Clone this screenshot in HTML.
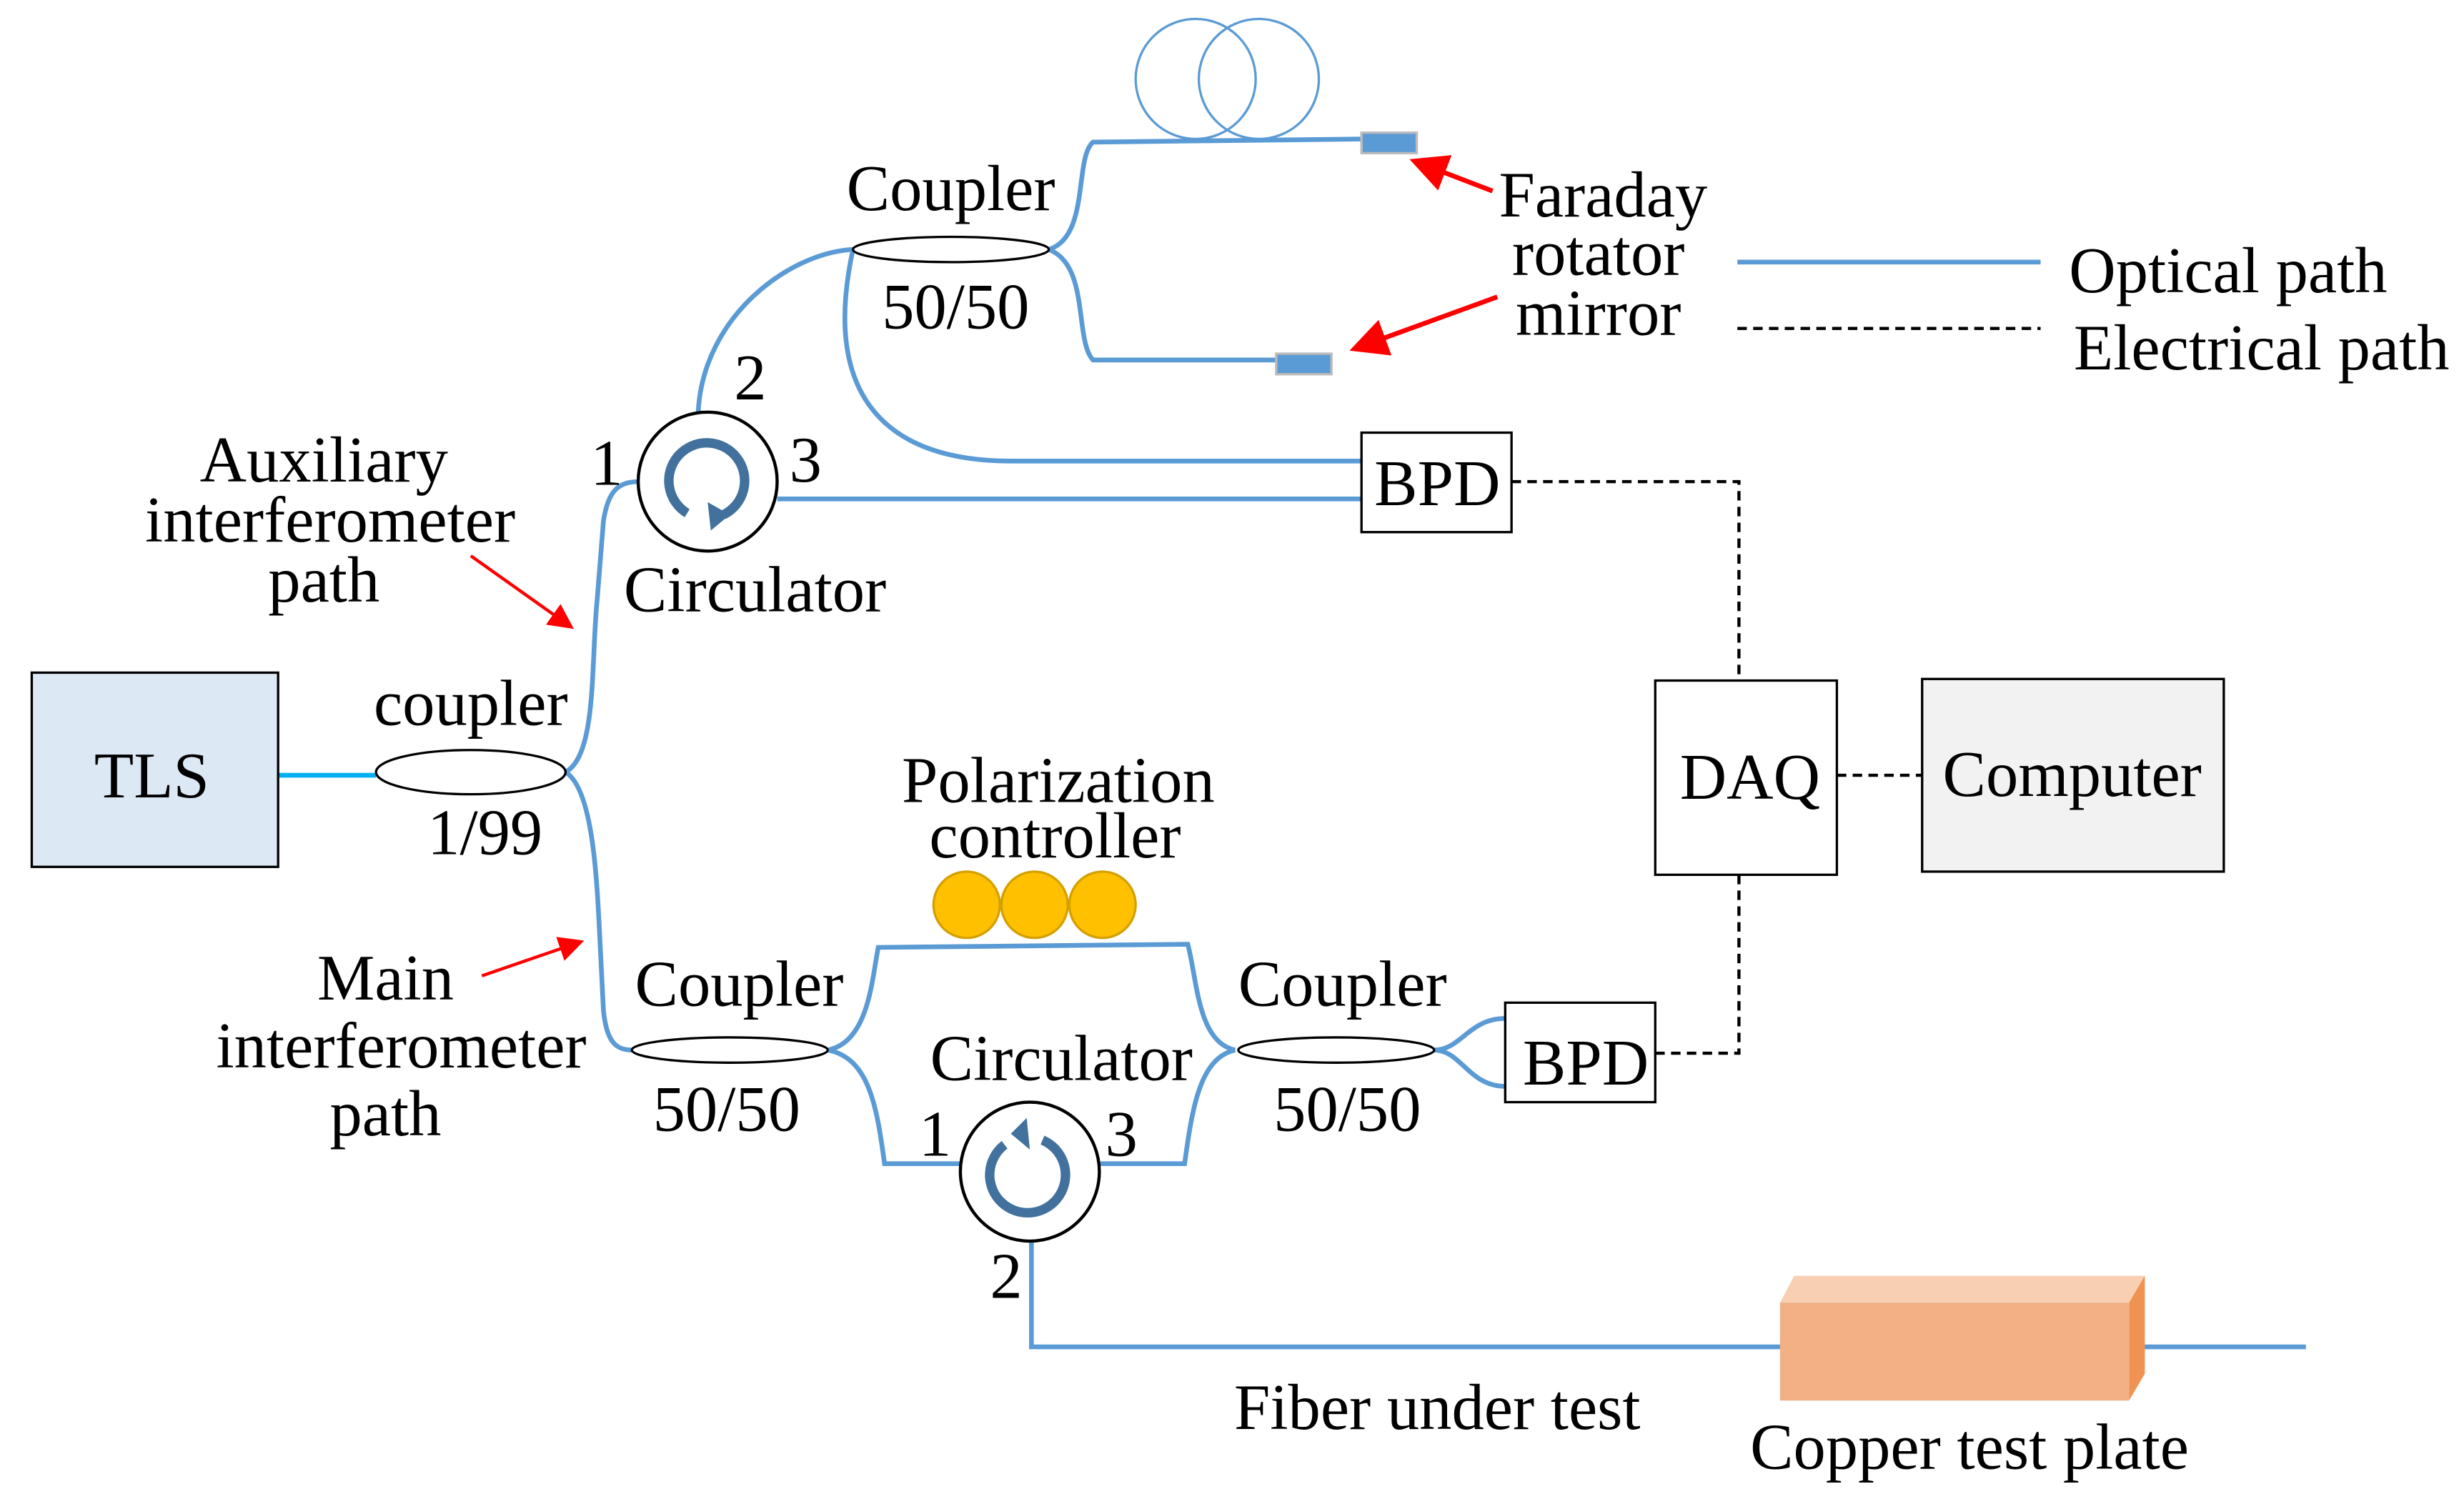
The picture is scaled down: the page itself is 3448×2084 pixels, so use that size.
<!DOCTYPE html>
<html><head><meta charset="utf-8"><style>
html,body{margin:0;padding:0;background:#fff;}
svg{display:block;}
text{font-family:"Liberation Serif",serif;font-size:41px;fill:#000;}
</style></head><body>
<svg width="3448" height="2084" viewBox="0 0 1560 943" xmlns="http://www.w3.org/2000/svg">
<defs>
<marker id="ar" markerWidth="8" markerHeight="8" refX="6" refY="4" orient="auto" markerUnits="strokeWidth">
<path d="M0,0 L8,4 L0,8 z" fill="#f00"/></marker>
</defs>
<g fill="none" stroke="#5b9bd5" stroke-width="3">
<circle cx="757" cy="50" r="38" stroke-width="1.5"/>
<circle cx="797" cy="50" r="38" stroke-width="1.5"/>
<path d="M358,489 C378,478 374,420 378,380 L382,330 C385,310 392,305 405,305"/>
<path d="M358,489 C376,500 378,560 380,600 L382,640 C384,660 390,665 400,665"/>
<path d="M442,261 C445,200 500,160 540,158"/>
<path d="M664,158 C690,150 680,100 692,90 L865,88"/>
<path d="M664,158 C690,168 680,215 692,228 L810,228"/>
<path d="M540,158 C520,250 560,292 640,292 L862,292"/>
<path d="M492,316 L862,316"/>
<path d="M1100,166 L1292,166"/>
<path d="M524,665 C550,660 552,620 556,600 L752,598 C758,620 758,660 782,665"/>
<path d="M524,665 C550,670 555,700 560,737 L608,737"/>
<path d="M696,737 L750,737 C755,700 760,670 782,665"/>
<path d="M908,665 C925,665 930,645 953,645"/>
<path d="M908,665 C925,665 930,688 953,688"/>
<path d="M653,786 L653,853 L1128,853"/>
<path d="M1355,853 L1460,853"/>
</g>
<path d="M176,491 L238,491" stroke="#00b0f0" stroke-width="3"/>
<g fill="#fff" stroke="#000" stroke-width="1.5">
<ellipse cx="298" cy="489" rx="60" ry="14"/>
<ellipse cx="602" cy="158" rx="62" ry="8"/>
<ellipse cx="462" cy="665" rx="62" ry="8"/>
<ellipse cx="846" cy="665" rx="62" ry="8"/>
</g>
<rect x="20" y="426" width="156" height="123" fill="#dde8f5" stroke="#000" stroke-width="1.5"/>
<text x="96" y="505" text-anchor="middle">TLS</text>
<g>
<circle cx="448" cy="305" r="44" fill="#fff" stroke="#000" stroke-width="2"/>
<path d="M435,325 A24,24 0 1 1 458,326" fill="none" stroke="#41719c" stroke-width="6"/>
<path d="M448,318 L462,326 L450,336 z" fill="#41719c"/>
<circle cx="652" cy="742" r="44" fill="#fff" stroke="#000" stroke-width="2"/>
<path d="M636,725 A24,24 0 1 0 660,722" fill="none" stroke="#41719c" stroke-width="6"/>
<path d="M652,728 L640,718 L650,708 z" fill="#41719c"/>
</g>
<rect x="862" y="84" width="35" height="13" fill="#5b9bd5" stroke="#bbb" stroke-width="1.5"/>
<rect x="808" y="224" width="35" height="13" fill="#5b9bd5" stroke="#bbb" stroke-width="1.5"/>
<path d="M945,121 L898,103" stroke="#f00" stroke-width="3" marker-end="url(#ar)"/>
<path d="M948,188 L860,220" stroke="#f00" stroke-width="3" marker-end="url(#ar)"/>
<path d="M298,352 L360,396" stroke="#f00" stroke-width="2" marker-end="url(#ar)"/>
<path d="M305,618 L366,597" stroke="#f00" stroke-width="2" marker-end="url(#ar)"/>
<rect x="862" y="274" width="95" height="63" fill="#fff" stroke="#000" stroke-width="1.5"/>
<text x="910" y="320" text-anchor="middle">BPD</text>
<rect x="953" y="635" width="95" height="63" fill="#fff" stroke="#000" stroke-width="1.5"/>
<text x="1004" y="687" text-anchor="middle">BPD</text>
<rect x="1048" y="431" width="115" height="123" fill="#fff" stroke="#000" stroke-width="1.5"/>
<text x="1108" y="506" text-anchor="middle">DAQ</text>
<rect x="1217" y="430" width="191" height="122" fill="#f2f2f2" stroke="#000" stroke-width="1.5"/>
<text x="1312" y="504" text-anchor="middle">Computer</text>
<g fill="none" stroke="#000" stroke-width="2" stroke-dasharray="6,4">
<path d="M957,305 L1101,305 L1101,431"/>
<path d="M1163,491 L1217,491"/>
<path d="M1101,554 L1101,667 L1048,667"/>
<path d="M1100,208 L1292,208"/>
</g>
<g fill="#ffc000" stroke="#d4a000" stroke-width="1.5">
<circle cx="612" cy="573" r="21"/><circle cx="655" cy="573" r="21"/><circle cx="698" cy="573" r="21"/>
</g>
<path d="M1127,825 L1136,808 L1358,808 L1348,825 z" fill="#f8cfb3"/>
<path d="M1348,825 L1358,808 L1358,870 L1348,887 z" fill="#f09352"/>
<rect x="1127" y="825" width="221" height="62" fill="#f3b084"/>
<g text-anchor="middle">
<text x="298" y="459">coupler</text>
<text x="307" y="541">1/99</text>
<text x="602" y="133">Coupler</text>
<text x="605" y="208">50/50</text>
<text x="468" y="637">Coupler</text>
<text x="460" y="716">50/50</text>
<text x="850" y="637">Coupler</text>
<text x="853" y="716">50/50</text>
<text x="478" y="387">Circulator</text>
<text x="672" y="684">Circulator</text>
<text x="384" y="307">1</text>
<text x="475" y="253">2</text>
<text x="510" y="305">3</text>
<text x="592" y="732">1</text>
<text x="710" y="732">3</text>
<text x="637" y="822">2</text>
<text x="1015" y="137">Faraday</text>
<text x="1012" y="174">rotator</text>
<text x="1012" y="212">mirror</text>
<text x="205" y="305">Auxiliary</text>
<text x="209" y="343">interferometer</text>
<text x="205" y="381">path</text>
<text x="244" y="633">Main</text>
<text x="254" y="676">interferometer</text>
<text x="244" y="719">path</text>
<text x="670" y="508">Polarization</text>
<text x="668" y="543">controller</text>
<text x="910" y="905">Fiber under test</text>
<text x="1247" y="930">Copper test plate</text>
</g>
<text x="1310" y="185">Optical path</text>
<text x="1313" y="234">Electrical path</text>
</svg>
</body></html>
